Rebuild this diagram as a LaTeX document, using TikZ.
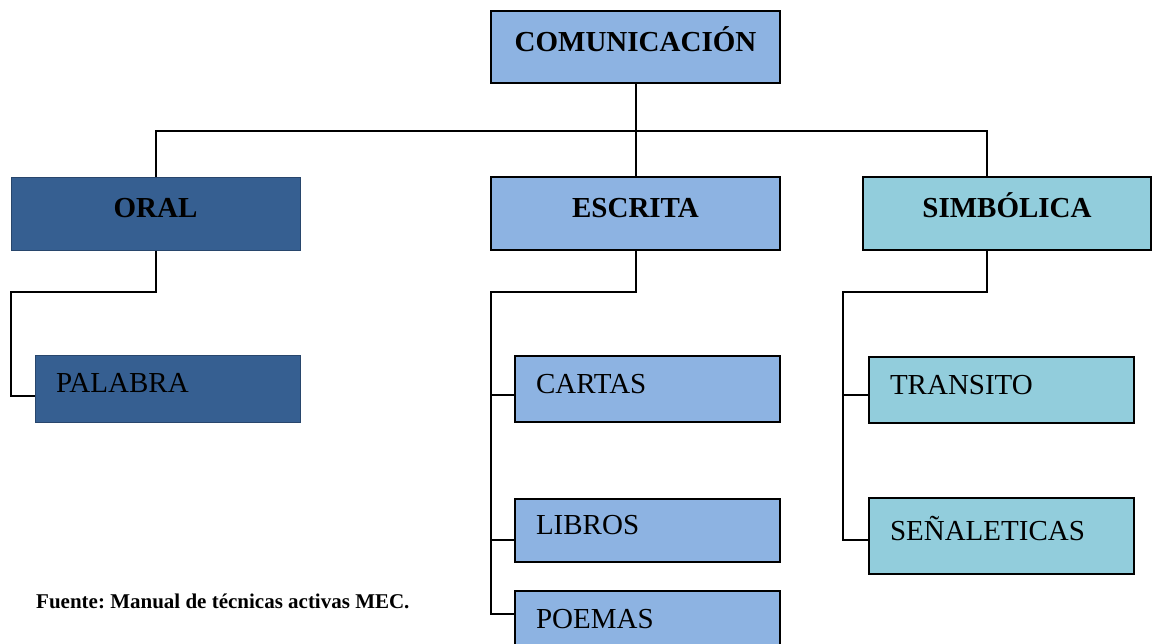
\documentclass[tikz,border=0pt]{standalone}
\usepackage{fontspec}
\setmainfont{Liberation Serif}
\frenchspacing

\begin{document}
\begin{tikzpicture}[x=1pt,y=-1pt,
    box/.style={draw=black, line width=1.8pt, rectangle, inner sep=0pt,
        text height=20pt, text depth=12pt, font=\fontsize{29}{32}\selectfont},
    headbox/.style={box, font=\fontsize{29}{32}\selectfont\bfseries, align=center},
    leafbox/.style={box, minimum width=265pt, text width=223pt, align=left},
    link/.style={line width=2pt, line join=miter}]
    % Define colors
    \definecolor{oralcolor}{RGB}{54,95,145}    % dark blue
    \definecolor{oralborder}{RGB}{40,70,108}
    \definecolor{escritacolor}{RGB}{141,179,226} % light blue
    \definecolor{simbcolor}{RGB}{146,205,220}  % light cyan

    \useasboundingbox (0,0) rectangle (1152,643);

    % Draw top box
    \node[headbox, fill=escritacolor, minimum width=289pt, minimum height=72pt, text width=289pt]
        (com) at (635.5,47) {COMUNICACIÓN};

    % Draw second level
    \node[headbox, fill=oralcolor, draw=oralborder, line width=1pt, minimum width=289pt, minimum height=73pt, text width=289pt]
        (oral) at (155.5,213.5) {ORAL};
    \node[headbox, fill=escritacolor, minimum width=289pt, minimum height=73pt, text width=289pt]
        (escrita) at (635.5,213.5) {ESCRITA};
    \node[headbox, fill=simbcolor, minimum width=288pt, minimum height=73pt, text width=288pt]
        (simb) at (1007,213.5) {SIMBÓLICA};

    % Draw leaves
    \node[leafbox, fill=oralcolor, draw=oralborder, line width=1pt, minimum height=67pt]
        (palabra) at (167.5,388.5) {PALABRA};
    \node[leafbox, fill=escritacolor, minimum height=66pt] (cartas) at (647.5,389) {CARTAS};
    \node[leafbox, fill=escritacolor, minimum height=63pt] (libros) at (647.5,530.5) {LIBROS};
    \node[leafbox, fill=escritacolor, minimum height=66pt] (poemas) at (647.5,624) {POEMAS};
    \node[leafbox, fill=simbcolor, minimum height=66pt] (transito) at (1001.5,390) {TRANSITO};
    \node[leafbox, fill=simbcolor, minimum height=76pt] (senal) at (1001.5,536) {SEÑALETICAS};

    % Draw connectors
    \coordinate (bus) at (635,131);
    \coordinate (oralfork) at (11,292);
    \coordinate (escfork) at (491,292);
    \coordinate (simfork) at (843,292);

    \draw[link] (com.south) -- (escrita.north);
    \draw[link] (oral.north) |- (bus) -| ([xshift=-20pt]simb.north);

    \draw[link] (oral.south) |- (oralfork) |- ([yshift=-7.5pt]palabra.west);

    \draw[link] (escrita.south) |- (escfork) |- ([yshift=-6pt]cartas.west);
    \draw[link] (escfork) |- ([yshift=-9.5pt]libros.west);
    \draw[link] (escfork) |- ([yshift=10pt]poemas.west);

    \draw[link] ([xshift=-20pt]simb.south) |- (simfork) |- ([yshift=-5pt]transito.west);
    \draw[link] (simfork) |- ([yshift=-4pt]senal.west);

    % Source note
    \node[anchor=base west, inner sep=0pt, font=\fontsize{21}{24}\selectfont\bfseries]
        (fuente) at (36,608) {Fuente: Manual de técnicas activas MEC.};
\end{tikzpicture}
\end{document}
